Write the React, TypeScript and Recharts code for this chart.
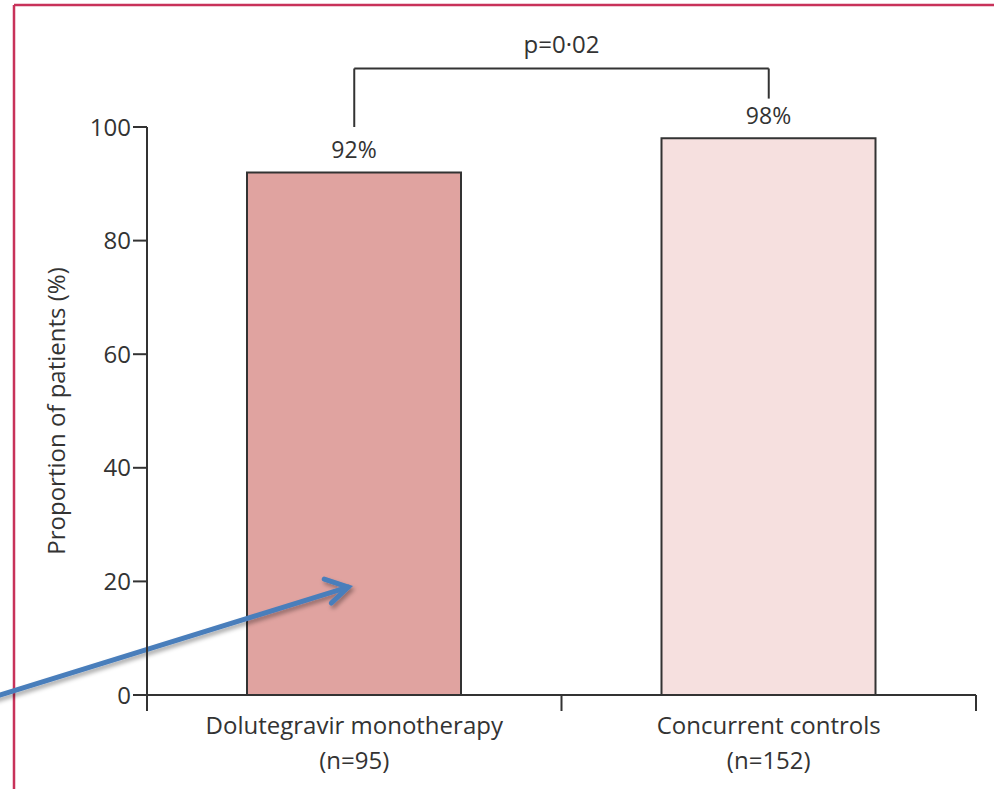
import { BarChart, Bar, XAxis, YAxis, Cell, LabelList, ReferenceLine } from "recharts";

const groups = ["Dolutegravir monotherapy", "Concurrent controls"];
const groupSizes = ["(n=95)", "(n=152)"];
const proportions = [92, 98];
const barColors = ["#E0A3A0", "#F6E0DF"];
const yTicks = [0, 20, 40, 60, 80, 100];
const pValue = "p=0·02";

const data = groups.map((name, i) => ({
  name,
  n: groupSizes[i],
  value: proportions[i],
}));

const font = "'Open Sans', sans-serif";
const ink = "#333333";

function CategoryTick(props: any) {
  const { x, y, payload, index } = props;
  const half = payload.offset || 0;
  const item = data[index];
  return (
    <g>
      <line x1={x - half} y1={y - 8} x2={x - half} y2={y + 8} stroke={ink} strokeWidth={2} />
      {index === data.length - 1 && (
        <line x1={x + half} y1={y - 8} x2={x + half} y2={y + 8} stroke={ink} strokeWidth={2} />
      )}
      <text x={x} y={y + 31} textAnchor="middle" fontFamily={font} fontSize={24} fill={ink}>
        {payload.value}
      </text>
      <text x={x} y={y + 66} textAnchor="middle" fontFamily={font} fontSize={24} fill={ink}>
        {item ? item.n : ""}
      </text>
    </g>
  );
}

// blue annotation arrow, tip anchored at a data point inside the first bar
function Arrow(props: any) {
  const { x1, y1 } = props;
  const tx = x1 - 6;
  const ty = y1;
  return (
    <g filter="url(#arrowShadow)" stroke="#4A7EBB" strokeWidth={5} strokeLinecap="round" fill="none">
      <line x1={tx - 355} y1={ty + 110} x2={tx} y2={ty} />
      <polyline points={`${tx - 24},${ty - 8} ${tx},${ty} ${tx - 17},${ty + 16}`} />
    </g>
  );
}

export default function App() {
  const a = groups[0];
  const b = groups[1];
  return (
    <div style={{ position: "absolute", left: 0, top: 0, width: 994, height: 789, background: "#fff" }}>
      <BarChart
        width={994}
        height={789}
        data={data}
        margin={{ top: 127, right: 18, bottom: 0, left: 0 }}
      >
        <defs>
          <filter id="arrowShadow" x="-10%" y="-30%" width="120%" height="160%">
            <feDropShadow dx={2} dy={3} stdDeviation={2} floodColor="#000" floodOpacity={0.35} />
          </filter>
        </defs>
        <line x1={14} y1={5} x2={994} y2={5} stroke="#C8325A" strokeWidth={2.5} />
        <line x1={14} y1={5} x2={14} y2={789} stroke="#C8325A" strokeWidth={2.5} />
        <XAxis
          dataKey="name"
          tick={<CategoryTick />}
          tickLine={false}
          axisLine={{ stroke: ink, strokeWidth: 2 }}
          interval={0}
          height={94}
        />
        <YAxis
          domain={[0, 100]}
          ticks={yTicks}
          width={147}
          tickSize={14}
          tickLine={{ stroke: ink, strokeWidth: 2 }}
          axisLine={{ stroke: ink, strokeWidth: 2 }}
          tick={{ fill: ink, fontFamily: font, fontSize: 24 }}
          label={{
            value: "Proportion of patients (%)",
            angle: -90,
            position: "insideLeft",
            offset: 56,
            style: { textAnchor: "middle", fill: ink, fontFamily: font, fontSize: 24 },
          }}
        />
        <Bar dataKey="value" barSize={214} stroke={ink} strokeWidth={2} isAnimationActive={false}>
          {data.map((d, i) => (
            <Cell key={d.name} fill={barColors[i]} />
          ))}
          <LabelList
            dataKey="value"
            position="top"
            offset={14}
            formatter={(v: any) => `${v}%`}
            style={{ fill: ink, fontFamily: font, fontSize: 23 }}
          />
        </Bar>
        <ReferenceLine
          segment={[{ x: a, y: 100 }, { x: a, y: 110.3 }]}
          stroke={ink}
          strokeWidth={2}
          ifOverflow="visible"
        />
        <ReferenceLine
          segment={[{ x: a, y: 110.3 }, { x: b, y: 110.3 }]}
          stroke={ink}
          strokeWidth={2}
          ifOverflow="visible"
          label={{ value: pValue, position: "top", offset: 15, style: { fill: ink, fontFamily: font, fontSize: 24 } }}
        />
        <ReferenceLine
          segment={[{ x: b, y: 110.3 }, { x: b, y: 105 }]}
          stroke={ink}
          strokeWidth={2}
          ifOverflow="visible"
        />
        <ReferenceLine
          segment={[{ x: a, y: 19 }, { x: a, y: 18 }]}
          ifOverflow="visible"
          shape={<Arrow />}
        />
      </BarChart>
    </div>
  );
}
